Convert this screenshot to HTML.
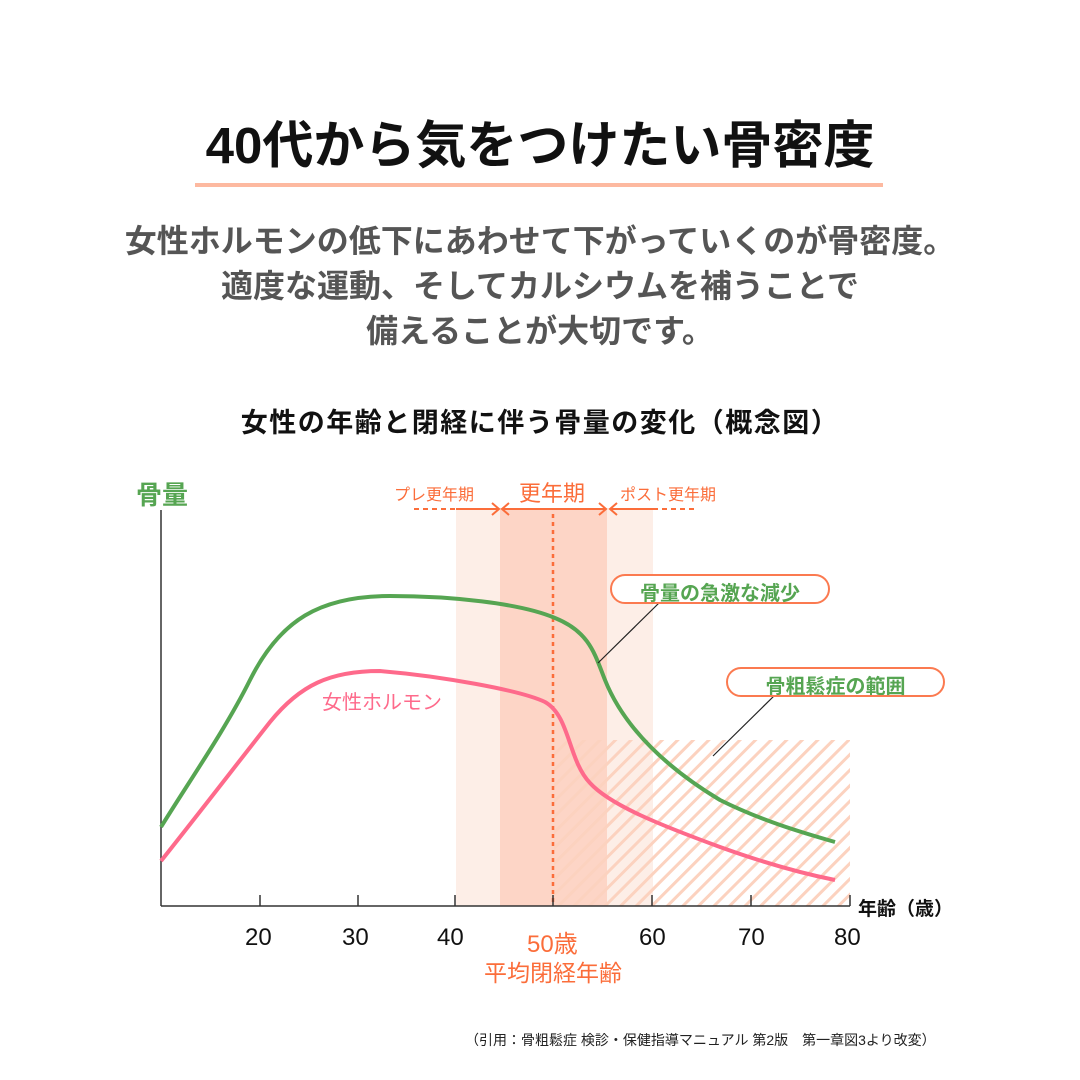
<!DOCTYPE html>
<html><head><meta charset="utf-8"><style>
html,body{margin:0;padding:0;background:#fff}
body{width:1080px;height:1080px;position:relative;overflow:hidden;font-family:"Liberation Sans","Noto Sans CJK JP",sans-serif}
.t{position:absolute;white-space:nowrap}
</style></head><body>
<div class="t" style="left:0;width:1080px;top:104px;text-align:center;font-size:51px;font-weight:bold;color:#111;">40代から気をつけたい骨密度</div>
<div style="position:absolute;left:195px;top:183px;width:688px;height:4px;background:#fdb9a0"></div>
<div class="t" style="left:0;width:1080px;top:219px;text-align:center;font-size:32px;line-height:45px;color:#555;font-weight:bold;">女性ホルモンの低下にあわせて下がっていくのが骨密度。<br>適度な運動、そしてカルシウムを補うことで<br>備えることが大切です。</div>
<div class="t" style="left:0;width:1080px;top:401px;text-align:center;font-size:27px;font-weight:bold;color:#111;letter-spacing:1.5px">女性の年齢と閉経に伴う骨量の変化（概念図）</div>

<svg width="1080" height="1080" style="position:absolute;left:0;top:0" xmlns="http://www.w3.org/2000/svg">
<defs>
<pattern id="h" patternUnits="userSpaceOnUse" width="11" height="11" patternTransform="rotate(45)">
<rect x="0" y="0" width="3" height="11" fill="#fcd2bf"/>
</pattern>
</defs>
<rect x="456" y="508" width="44" height="398" fill="#fdeee7"/>
<rect x="500" y="508" width="107" height="398" fill="#fdd5c6"/>
<rect x="607" y="508" width="46" height="398" fill="#fdeee7"/>
<rect x="554" y="740" width="296" height="166" fill="url(#h)"/>
<line x1="553" y1="514" x2="553" y2="906" stroke="#fb6d3a" stroke-width="2.5" stroke-dasharray="4,4"/>
<g stroke="#fb6d3a" stroke-width="2" fill="none">
<line x1="414" y1="509" x2="456" y2="509" stroke-dasharray="5,4"/>
<line x1="456" y1="509" x2="499" y2="509"/>
<polyline points="492,503 499,509 492,515"/>
<line x1="502" y1="509" x2="606" y2="509"/>
<polyline points="509,503 502,509 509,515"/>
<polyline points="599,503 606,509 599,515"/>
<line x1="610" y1="509" x2="653" y2="509"/>
<polyline points="617,503 610,509 617,515"/>
<line x1="653" y1="509" x2="698" y2="509" stroke-dasharray="5,4"/>
</g>
<g stroke="#333" stroke-width="1.5" fill="none">
<line x1="161" y1="510" x2="161" y2="906"/>
<line x1="161" y1="906" x2="850" y2="906"/>
<line x1="260" y1="895" x2="260" y2="906"/>
<line x1="358" y1="895" x2="358" y2="906"/>
<line x1="455" y1="895" x2="455" y2="906"/>
<line x1="553" y1="895" x2="553" y2="906"/>
<line x1="652" y1="895" x2="652" y2="906"/>
<line x1="751" y1="895" x2="751" y2="906"/>
<line x1="850" y1="895" x2="850" y2="906"/>
</g>
<path d="M161,827 C190,780 225,730 250,680 C280,620 320,596 390,596 C450,596 520,603 555,618 C590,632 595,655 605,680 C625,730 670,770 720,800 C760,820 800,832 835,842" stroke="#56a552" stroke-width="4" fill="none"/>
<path d="M161,861 C200,812 240,760 270,722 C300,685 330,671 380,671 C440,676 520,690 545,702 C570,716 568,760 590,783 C610,805 660,825 720,847 C770,865 810,875 835,880" stroke="#fe6a8b" stroke-width="4" fill="none"/>
<line x1="661" y1="601" x2="598" y2="663" stroke="#222" stroke-width="1.2"/>
<line x1="776" y1="694" x2="713" y2="756" stroke="#222" stroke-width="1.2"/>
<rect x="611" y="575" width="218" height="28" rx="14" fill="#fff" stroke="#fb7a50" stroke-width="2"/>
<rect x="727" y="668" width="217" height="28" rx="14" fill="#fff" stroke="#fb7a50" stroke-width="2"/>
</svg>

<div class="t" style="left:136px;top:475px;font-size:26px;color:#56a552;font-weight:bold;">骨量</div>
<div class="t" style="left:394px;top:481px;font-size:16px;color:#fb6d3a;">プレ更年期</div>
<div class="t" style="left:519px;top:476px;font-size:22px;color:#fb6d3a;">更年期</div>
<div class="t" style="left:620px;top:481px;font-size:16px;color:#fb6d3a;">ポスト更年期</div>
<div class="t" style="left:611px;width:218px;top:577px;text-align:center;font-size:20px;color:#56a552;font-weight:bold;">骨量の急激な減少</div>
<div class="t" style="left:727px;width:217px;top:670px;text-align:center;font-size:20px;color:#56a552;font-weight:bold;">骨粗鬆症の範囲</div>
<div class="t" style="left:322px;top:686px;font-size:20px;color:#fe6a8b;">女性ホルモン</div>
<div class="t" style="left:858px;top:894px;font-size:19px;color:#111;font-weight:bold;">年齢（歳）</div>
<div class="t" style="left:245px;top:924px;font-size:24px;color:#111;">20</div>
<div class="t" style="left:342px;top:924px;font-size:24px;color:#111;">30</div>
<div class="t" style="left:437px;top:924px;font-size:24px;color:#111;">40</div>
<div class="t" style="left:639px;top:924px;font-size:24px;color:#111;">60</div>
<div class="t" style="left:738px;top:924px;font-size:24px;color:#111;">70</div>
<div class="t" style="left:834px;top:924px;font-size:24px;color:#111;">80</div>
<div class="t" style="left:527px;top:924px;font-size:24px;color:#fb6d3a;">50歳</div>
<div class="t" style="left:484px;top:954px;font-size:23px;color:#fb6d3a;">平均閉経年齢</div>
<div class="t" style="left:465px;top:1030px;font-size:14px;color:#222;">（引用：骨粗鬆症 検診・保健指導マニュアル 第2版　第一章図3より改変）</div>
</body></html>
